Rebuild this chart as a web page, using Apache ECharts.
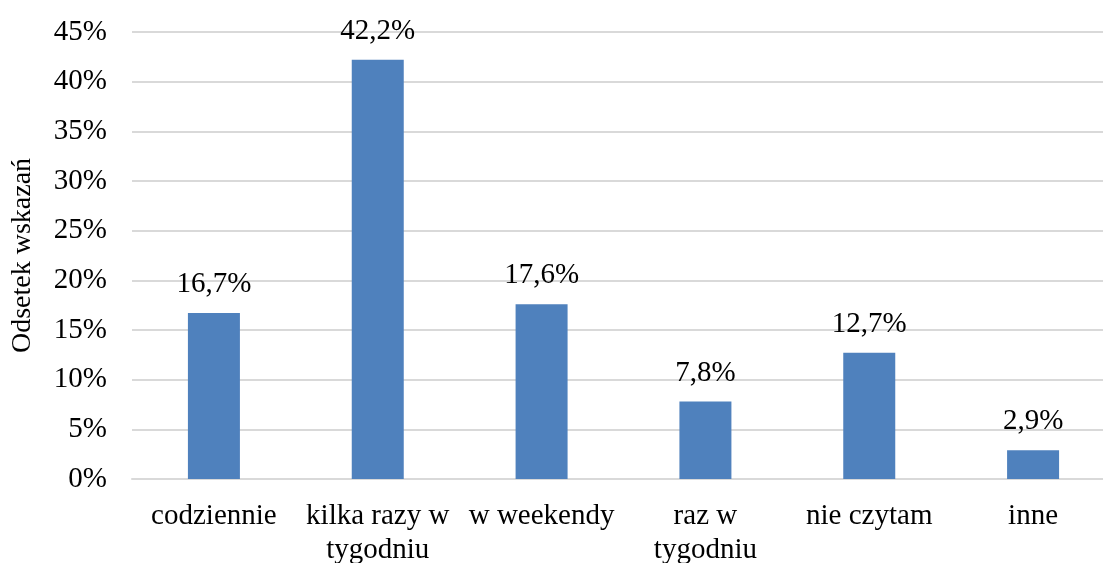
<!DOCTYPE html>
<html><head><meta charset="utf-8">
<script src="https://cdn.jsdelivr.net/npm/echarts@6/dist/echarts.min.js"></script>
<style>html,body{margin:0;padding:0;background:#fff}#c{width:1103px;height:563px}</style>
</head><body><div id="c"></div>
<script>
const categories = ["codziennie", "kilka razy w\ntygodniu", "w weekendy", "raz w\ntygodniu", "nie czytam", "inne"];
const values = [16.7, 42.2, 17.6, 7.8, 12.7, 2.9];
const yTicks = [0, 5, 10, 15, 20, 25, 30, 35, 40, 45];
const yAxisName = "Odsetek wskazań";
const font = "'Liberation Serif', 'Times New Roman', serif";
const chart = echarts.init(document.getElementById('c'));
chart.setOption({
  animation: false,
  grid: { left: 132, right: -12, top: 32, bottom: 84, containLabel: false, outerBoundsMode: 'none' },
  xAxis: {
    type: 'category', data: categories,
    axisLine: { lineStyle: { color: '#d9d9d9', width: 2 } },
    axisTick: { show: false },
    axisLabel: { fontFamily: font, fontSize: 29, color: '#000', margin: 20, lineHeight: 34, interval: 0 }
  },
  yAxis: {
    type: 'value', min: yTicks[0], max: yTicks[yTicks.length - 1], interval: 5,
    name: yAxisName, nameLocation: 'middle', nameGap: 95, nameRotate: 90,
    nameTextStyle: { fontFamily: font, fontSize: 28, color: '#000' },
    axisLine: { show: false }, axisTick: { show: false },
    axisLabel: { fontFamily: font, fontSize: 29, color: '#000', margin: 25, formatter: v => v + '%' },
    splitLine: { lineStyle: { color: '#d9d9d9', width: 2 } }
  },
  series: [{
    type: 'bar', data: values, barWidth: 52,
    itemStyle: { color: '#4f81bd' },
    label: { show: true, position: 'top', distance: 14, fontFamily: font, fontSize: 29, color: '#000',
      formatter: p => p.value.toFixed(1).replace('.', ',') + '%' }
  }]
});
</script></body></html>
